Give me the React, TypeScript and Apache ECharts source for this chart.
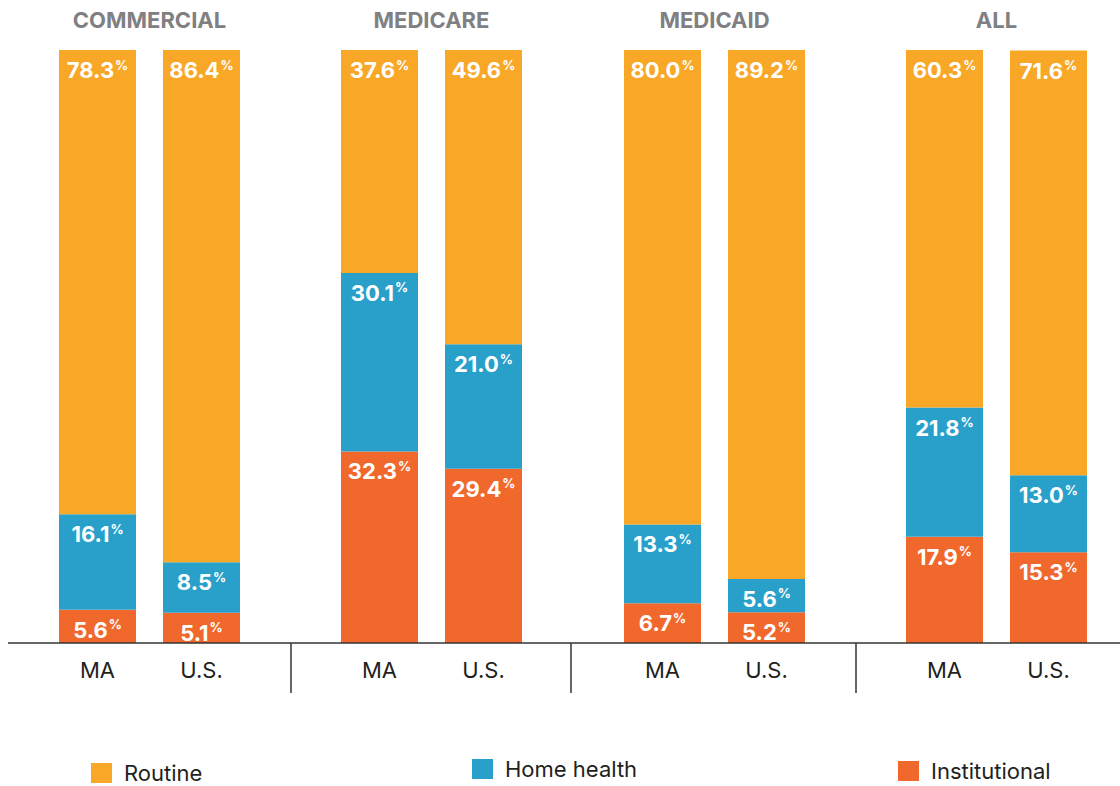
import React, { useEffect, useRef } from "react";
import * as echarts from "echarts";

const groups = ["COMMERCIAL", "MEDICARE", "MEDICAID", "ALL"];
const places = ["MA", "U.S."];
const routine = [
  [78.3, 86.4],
  [37.6, 49.6],
  [80.0, 89.2],
  [60.3, 71.6],
];
const homeHealth = [
  [16.1, 8.5],
  [30.1, 21.0],
  [13.3, 5.6],
  [21.8, 13.0],
];
const institutional = [
  [5.6, 5.1],
  [32.3, 29.4],
  [6.7, 5.2],
  [17.9, 15.3],
];

const COLORS = {
  Routine: "#F9A727",
  "Home health": "#29A0CA",
  Institutional: "#F1682C",
};
const FONT = "Inter, 'Liberation Sans', Arial, sans-serif";

export default function App() {
  const ref = useRef<HTMLDivElement>(null);
  useEffect(() => {
    document.body.style.margin = "0";
    const chart = echarts.init(ref.current!, undefined, { renderer: "svg" });
    const gridLefts = [45.5, 327.5, 610.5, 892.5];
    const gridWidth = 208;
    const grids = gridLefts.map((l) => ({
      left: l,
      width: gridWidth,
      top: 50,
      bottom: 143,
      containLabel: false,
    }));
    const xAxes = groups.map((_, i) => ({
      type: "category",
      gridIndex: i,
      data: places,
      axisLine: { show: false },
      axisTick: { show: false },
      axisLabel: {
        color: "#231F20",
        fontSize: 22,
        fontFamily: FONT,
        margin: 16,
      },
    }));
    const yAxes = groups.map((_, i) => ({
      type: "value",
      gridIndex: i,
      min: 0,
      max: 100,
      show: false,
      splitLine: { show: false },
    }));
    const label = {
      show: true,
      position: "insideTop",
      distance: 8,
      formatter: (p: any) => `{v|${Number(p.value).toFixed(1)}}{p|%}`,
      rich: {
        v: {
          color: "#fff",
          fontSize: 22,
          fontWeight: "bold",
          fontFamily: FONT,
          lineHeight: 24,
        },
        p: {
          color: "#fff",
          fontSize: 13,
          fontWeight: "bold",
          fontFamily: FONT,
          verticalAlign: "top",
          lineHeight: 24,
          padding: [0, 0, 8, 1],
        },
      },
    };
    const series: any[] = [];
    const layers: [string, number[][]][] = [
      ["Institutional", institutional],
      ["Home health", homeHealth],
      ["Routine", routine],
    ];
    groups.forEach((_, gi) => {
      layers.forEach(([name, arr]) => {
        series.push({
          type: "bar",
          name,
          xAxisIndex: gi,
          yAxisIndex: gi,
          stack: "g" + gi,
          barWidth: 77,
          data: arr[gi],
          itemStyle: { color: (COLORS as any)[name] },
          label,
          emphasis: { disabled: true },
        });
      });
    });
    const titles = groups.map((g, i) => ({
      text: g,
      left: gridLefts[i] + gridWidth / 2,
      top: 9,
      textAlign: "center",
      padding: 0,
      textStyle: {
        color: "#808083",
        fontSize: 22,
        fontWeight: "bold",
        fontFamily: FONT,
      },
    }));
    const legendPos = [
      { name: "Routine", left: 91, top: 762 },
      { name: "Home health", left: 472, top: 758 },
      { name: "Institutional", left: 898, top: 760 },
    ];
    const legends = legendPos.map((lp) => ({
      data: [lp.name],
      left: lp.left,
      top: lp.top,
      padding: 0,
      itemWidth: 21,
      itemHeight: 20,
      icon: "rect",
      selectedMode: false,
      textStyle: {
        color: "#231F20",
        fontSize: 22,
        fontFamily: FONT,
        padding: [0, 0, 0, 7],
        lineHeight: 20,
      },
    }));
    const sepXs = [291, 571, 856];
    const graphic: any[] = [
      {
        type: "line",
        shape: { x1: 8, y1: 643, x2: 1120, y2: 643 },
        style: { stroke: "#333", lineWidth: 1.5 },
        z: 10,
      },
      ...sepXs.map((x) => ({
        type: "line",
        shape: { x1: x, y1: 643, x2: x, y2: 693 },
        style: { stroke: "#333", lineWidth: 1.5 },
        z: 10,
      })),
    ];
    chart.setOption({
      animation: false,
      backgroundColor: "#fff",
      title: titles,
      legend: legends,
      grid: grids,
      xAxis: xAxes,
      yAxis: yAxes,
      series,
      graphic,
    } as any);
    return () => chart.dispose();
  }, []);
  return <div ref={ref} style={{ width: 1120, height: 786 }} />;
}
